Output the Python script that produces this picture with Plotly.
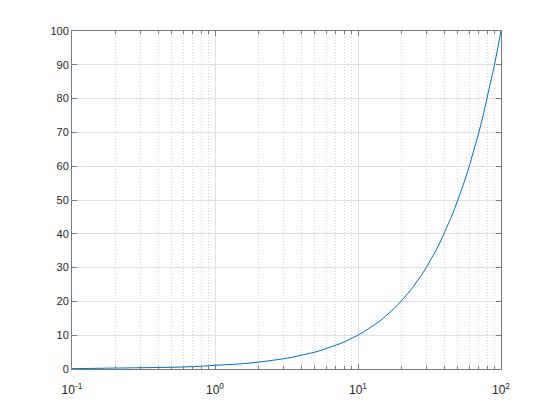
import plotly.graph_objects as go

x_vals = [0.1, 0.15, 0.2, 0.3, 0.4, 0.5, 0.7, 1, 1.5, 2, 2.5, 3, 3.5, 4, 4.5, 5,
          5.5, 6, 6.5, 7, 7.5, 8, 8.5, 9, 9.5, 10, 11, 12, 13, 14, 15, 16, 17,
          18, 19, 20, 22, 24, 26, 28, 30, 32.5, 35, 37.5, 40, 42.5, 45, 47.5,
          50, 55, 60, 65, 70, 75, 80, 85, 90, 95, 100]
y_vals = [0.1, 0.15, 0.2, 0.3, 0.4, 0.5, 0.7, 1, 1.5, 2, 2.5, 3, 3.5, 4, 4.5, 5,
          5.5, 6, 6.5, 7, 7.5, 8, 8.5, 9, 9.5, 10, 11, 12, 13, 14, 15, 16, 17,
          18, 19, 20, 22, 24, 26, 28, 30, 32.5, 35, 37.5, 40, 42.5, 45, 47.5,
          50, 55, 60, 65, 70, 75, 80, 85, 90, 95, 100]
y_ticks = [0, 10, 20, 30, 40, 50, 60, 70, 80, 90, 100]
x_ticks = [0.1, 1, 10, 100]
x_ticktext = ["10<sup>-1</sup>", "10<sup>0</sup>", "10<sup>1</sup>", "10<sup>2</sup>"]

axis_color = "#7a7a7a"
font_color = "#262626"

fig = go.Figure()
fig.add_trace(go.Scatter(x=x_vals, y=y_vals, mode="lines",
                         line=dict(color="#0072BD", width=1)))

fig.update_layout(
    width=554, height=415,
    margin=dict(l=64, r=61, t=23, b=54),
    paper_bgcolor="white", plot_bgcolor="white",
    showlegend=False,
    font=dict(family="Liberation Sans, Arial, sans-serif", size=11, color=font_color),
)
fig.update_xaxes(
    type="log", range=[-1, 2],
    tickvals=x_ticks, ticktext=x_ticktext,
    ticks="inside", ticklen=5, tickcolor=axis_color,
    showline=True, linecolor=axis_color, linewidth=1, mirror="ticks",
    showgrid=True, gridcolor="#e0e0e0", gridwidth=1,
    tickfont=dict(size=12), ticklabelstandoff=10,
    zeroline=False,
    minor=dict(ticks="inside", ticklen=3, tickcolor=axis_color, dtick="D1",
               showgrid=True, gridcolor="#d4d4d4", griddash="1px,2px", gridwidth=1),
)
fig.update_yaxes(
    range=[0, 100], tickvals=y_ticks,
    ticks="inside", ticklen=5, tickcolor=axis_color,
    showline=True, linecolor=axis_color, linewidth=1, mirror="ticks",
    showgrid=True, gridcolor="#e0e0e0", gridwidth=1,
    zeroline=False,
)
fig.write_html("out.html")
